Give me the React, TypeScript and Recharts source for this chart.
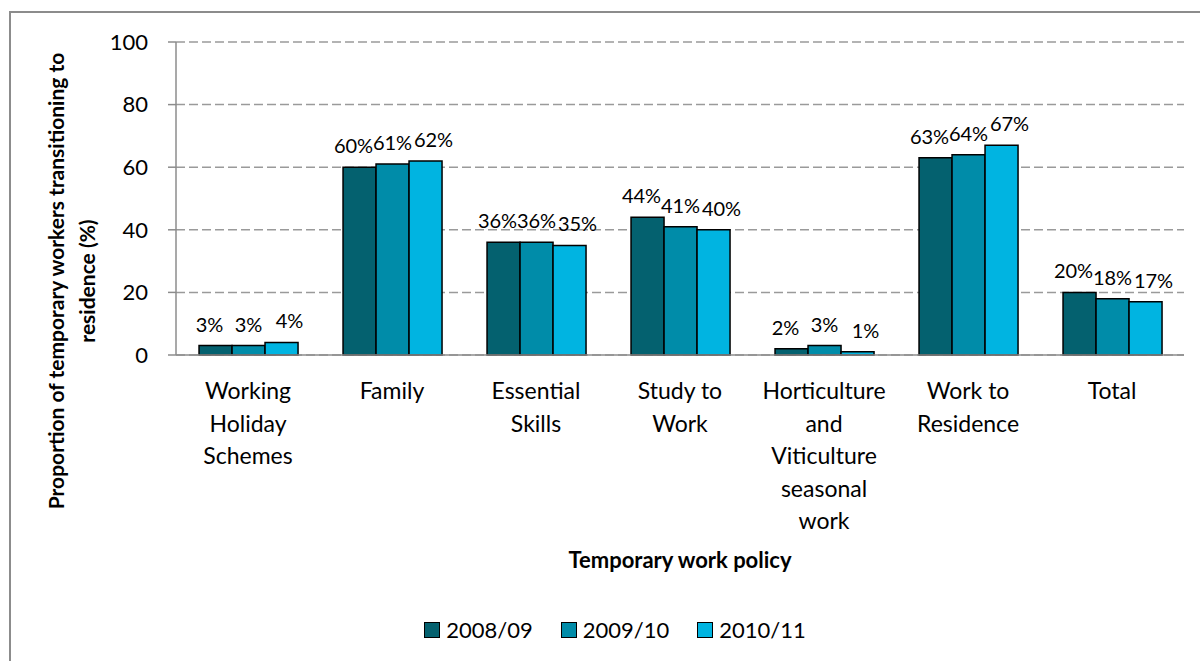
import { BarChart, Bar, XAxis, YAxis, CartesianGrid, LabelList } from 'recharts'

const categories = [
  'Working Holiday Schemes',
  'Family',
  'Essential Skills',
  'Study to Work',
  'Horticulture and Viticulture seasonal work',
  'Work to Residence',
  'Total',
]

const categoryLines = [
  ['Working', 'Holiday', 'Schemes'],
  ['Family'],
  ['Essential', 'Skills'],
  ['Study to', 'Work'],
  ['Horticulture', 'and', 'Viticulture', 'seasonal', 'work'],
  ['Work to', 'Residence'],
  ['Total'],
]

const y2008 = [3, 60, 36, 44, 2, 63, 20]
const y2009 = [3, 61, 36, 41, 3, 64, 18]
const y2010 = [4, 62, 35, 40, 1, 67, 17]

const yTicks = [0, 20, 40, 60, 80, 100]

const seriesNames = ['2008/09', '2009/10', '2010/11']
const seriesColors = ['#04616F', '#008CA9', '#00B4E1']
// labels are nudged apart like Excel does when they would collide
const labelShift = [-6, 0, 8]

const data = categories.map((name, i) => ({
  name,
  s1: y2008[i],
  s2: y2009[i],
  s3: y2010[i],
}))

const FONT = 'Lato, "Open Sans", sans-serif'

function CategoryTick(props: any) {
  const { x, y, payload } = props
  const lines = categoryLines[payload.index] ?? [payload.value]
  return (
    <g transform={`translate(${x},${y})`}>
      {lines.map((line, i) => (
        <text
          key={i}
          x={0}
          y={0}
          dy={36 + i * 32.5}
          textAnchor="middle"
          fontSize={23}
          fontFamily={FONT}
          fill="#000"
        >
          {line}
        </text>
      ))}
    </g>
  )
}

function LegendBox() {
  return (
    <div
      style={{
        position: 'absolute',
        left: 0,
        top: 616,
        width: 1200,
        display: 'flex',
        justifyContent: 'center',
        fontFamily: FONT,
        fontSize: 22,
        color: '#000',
        paddingLeft: 30,
        boxSizing: 'border-box',
      }}
    >
      {seriesNames.map((n, i) => (
        <div key={n} style={{ display: 'flex', alignItems: 'center', marginRight: i < 2 ? 28 : 0 }}>
          <span
            style={{
              display: 'inline-block',
              width: 14,
              height: 14,
              background: seriesColors[i],
              border: '1.5px solid #000',
              marginRight: 6,
            }}
          />
          <span>{n}</span>
        </div>
      ))}
    </div>
  )
}

function YTitle() {
  const cy = 281
  return (
    <g fontFamily={FONT} fontSize={21} fontWeight="bold" fill="#000">
      <text transform={`translate(64,${cy}) rotate(-90)`} textAnchor="middle">
        Proportion of temporary workers transitioning to
      </text>
      <text transform={`translate(95,${cy}) rotate(-90)`} textAnchor="middle">
        residence (%)
      </text>
    </g>
  )
}

function XTitle() {
  return (
    <text x={680} y={568} textAnchor="middle" fontFamily={FONT} fontSize={22} fontWeight="bold" fill="#000">
      Temporary work policy
    </text>
  )
}

function makeLabel(shift: number) {
  return (props: any) => {
    const { x, y, width, value } = props
    return (
      <text
        x={x + width / 2 + shift}
        y={y - 14}
        textAnchor="middle"
        fontSize={20}
        fontFamily={FONT}
        fill="#000"
      >
        {`${value}%`}
      </text>
    )
  }
}

export default function App() {
  return (
    <div style={{ position: 'absolute', left: 0, top: 0, width: 1200, height: 661, background: '#fff', overflow: 'hidden' }}>
      <div
        style={{
          position: 'absolute',
          left: 9,
          top: 11,
          width: 1200,
          height: 661,
          borderLeft: '2px solid #8c8c8c',
          borderTop: '2px solid #8c8c8c',
        }}
      />
      <BarChart
        width={1200}
        height={661}
        data={data}
        margin={{ top: 42, right: 16, bottom: 156, left: 0 }}
        barCategoryGap="16%"
        barGap={0}
        style={{ position: 'absolute', left: 0, top: 0 }}
      >
        <CartesianGrid vertical={false} stroke="#9a9a9a" strokeWidth={1.5} strokeDasharray="9 4" />
        <XAxis
          dataKey="name"
          interval={0}
          height={150}
          tick={<CategoryTick />}
          tickLine={false}
          axisLine={{ stroke: '#8c8c8c', strokeWidth: 1.5 }}
          label={<XTitle />}
        />
        <YAxis
          width={176}
          domain={[0, 100]}
          ticks={yTicks}
          tickSize={8}
          tickMargin={20}
          tick={{ fontSize: 22, fill: '#000', fontFamily: FONT }}
          tickLine={{ stroke: '#8c8c8c', strokeWidth: 1.5 }}
          axisLine={{ stroke: '#8c8c8c', strokeWidth: 1.5 }}
          label={<YTitle />}
        />
        {['s1', 's2', 's3'].map((k, i) => (
          <Bar
            key={k}
            dataKey={k}
            name={seriesNames[i]}
            fill={seriesColors[i]}
            stroke="#000"
            strokeWidth={1.5}
            isAnimationActive={false}
          >
            <LabelList dataKey={k} content={makeLabel(labelShift[i])} />
          </Bar>
        ))}
      </BarChart>
      <LegendBox />
    </div>
  )
}
